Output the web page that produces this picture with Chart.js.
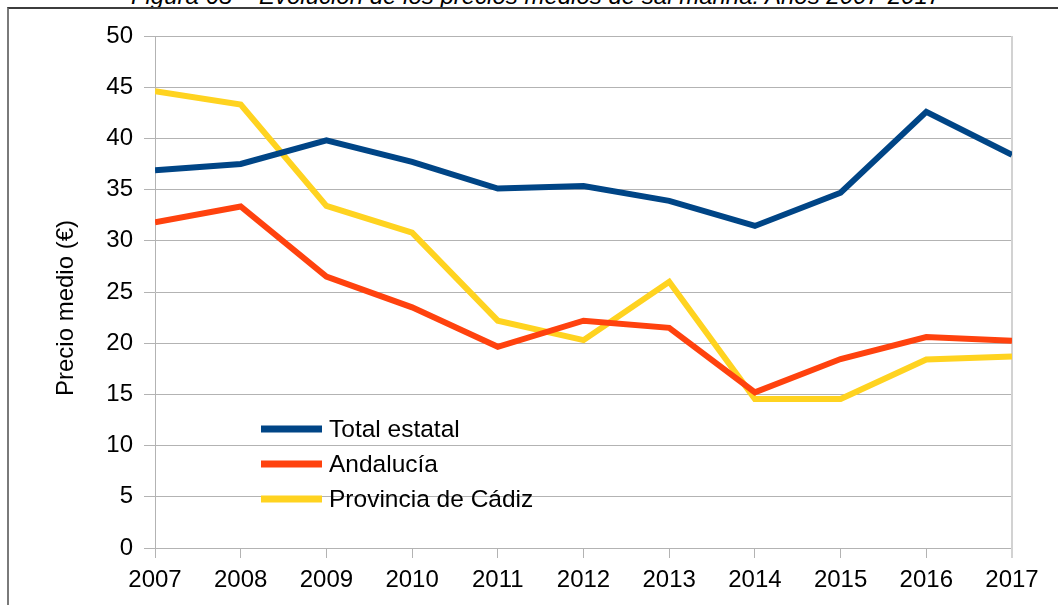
<!DOCTYPE html>
<html>
<head>
<meta charset="utf-8">
<script src="https://cdn.jsdelivr.net/npm/chart.js@4/dist/chart.umd.min.js"></script>
<style>
    html, body { margin: 0; padding: 0; background: #fff; }
    #marco { position: relative; width: 1058px; height: 605px; overflow: hidden; }
    #titulo {
        position: absolute; left: 0; width: 1072px; top: -18px;
        text-align: center; font: italic 24px "Liberation Sans", Arial, sans-serif; color: #000;
        white-space: nowrap;
    }
    #borde {
        position: absolute; left: 7px; top: 7px; right: -4px; bottom: -4px;
        border-top: 2px solid #3c3c3c; border-left: 2px solid #7a7a7a;
    }
    #graficoPrecios { position: absolute; left: 0; top: 0; }
</style>
</head>
<body>
<div id="marco">
    <div id="titulo">Figura 65 – Evolución de los precios medios de sal marina. Años 2007-2017</div>
    <div id="borde"></div>
    <canvas id="graficoPrecios" width="1058" height="605"></canvas>
</div>
<script>
var anos = ['2007', '2008', '2009', '2010', '2011', '2012', '2013', '2014', '2015', '2016', '2017'];
var totalEstatal = [36.9, 37.5, 39.8, 37.7, 35.1, 35.35, 33.9, 31.45, 34.7, 42.6, 38.4];
var andalucia = [31.8, 33.35, 26.5, 23.5, 19.65, 22.2, 21.5, 15.2, 18.45, 20.6, 20.25];
var cadiz = [44.6, 43.3, 33.4, 30.8, 22.2, 20.3, 26.0, 14.55, 14.55, 18.4, 18.7];

var nomesSeries = ['Total estatal', 'Andalucía', 'Provincia de Cádiz'];
var coresSeries = ['#004586', '#ff420e', '#ffd320'];
var tituloEixoY = 'Precio medio (€)';

var fonte = '"Liberation Sans", Arial, sans-serif';

// legenda dentro da área do gráfico, canto inferior esquerdo
var legendaInterna = {
    id: 'legendaInterna',
    afterDatasetsDraw: function (chart) {
        var ctx = chart.ctx;
        var area = chart.chartArea;
        var x0 = area.left + 106;
        var y0 = area.top + 393;
        ctx.save();
        ctx.font = '24.5px ' + fonte;
        ctx.textBaseline = 'middle';
        chart.data.datasets.forEach(function (ds, i) {
            var y = y0 + i * 35;
            ctx.fillStyle = ds.borderColor;
            ctx.fillRect(x0, y - 3.5, 61, 7);
            ctx.fillStyle = '#000';
            ctx.fillText(ds.label, x0 + 68, y + 1);
        });
        ctx.restore();
    }
};

// borda direita da área de plotagem e título do eixo Y
var bordaDireita = {
    id: 'bordaDireita',
    beforeDatasetsDraw: function (chart) {
        var ctx = chart.ctx;
        var area = chart.chartArea;
        ctx.save();
        ctx.strokeStyle = '#d2d2d2';
        ctx.lineWidth = 2;
        ctx.beginPath();
        ctx.moveTo(area.right, area.top);
        ctx.lineTo(area.right, area.bottom + 10);
        ctx.stroke();

        ctx.translate(66, 308);
        ctx.rotate(-Math.PI / 2);
        ctx.font = '24px ' + fonte;
        ctx.fillStyle = '#000';
        ctx.textAlign = 'center';
        ctx.textBaseline = 'middle';
        ctx.fillText(tituloEixoY, 0, 0);
        ctx.restore();
    }
};

var ctx = document.getElementById('graficoPrecios');

var grafico = new Chart(ctx, {
    type: 'line',
    data: {
        labels: anos,
        datasets: [{
            label: nomesSeries[0],
            data: totalEstatal,
            borderColor: coresSeries[0],
            backgroundColor: coresSeries[0]
        }, {
            label: nomesSeries[1],
            data: andalucia,
            borderColor: coresSeries[1],
            backgroundColor: coresSeries[1]
        }, {
            label: nomesSeries[2],
            data: cadiz,
            borderColor: coresSeries[2],
            backgroundColor: coresSeries[2]
        }]
    },
    options: {
        responsive: false,
        animation: false,
        datasets: {
            line: {
                borderWidth: 6,
                tension: 0,
                pointRadius: 0,
                clip: 0
            }
        },
        layout: {
            padding: { left: 0, right: 46, top: 36, bottom: 0 }
        },
        plugins: {
            legend: { display: false },
            tooltip: { enabled: false }
        },
        scales: {
            x: {
                offset: false,
                grid: {
                    drawOnChartArea: false,
                    color: '#b3b3b3',
                    tickLength: 10
                },
                border: { color: '#b3b3b3' },
                ticks: {
                    color: '#000',
                    padding: 8,
                    maxRotation: 0,
                    font: { family: fonte, size: 24 }
                },
                afterFit: function (scale) { scale.height = 57; }
            },
            y: {
                min: 0,
                max: 50,
                grid: {
                    color: '#b3b3b3',
                    tickLength: 11
                },
                border: { color: '#b3b3b3' },
                ticks: {
                    stepSize: 5,
                    color: '#000',
                    padding: 11,
                    font: { family: fonte, size: 24 }
                },
                afterFit: function (scale) { scale.width = 155; }
            }
        }
    },
    plugins: [bordaDireita, legendaInterna]
});
</script>
</body>
</html>
